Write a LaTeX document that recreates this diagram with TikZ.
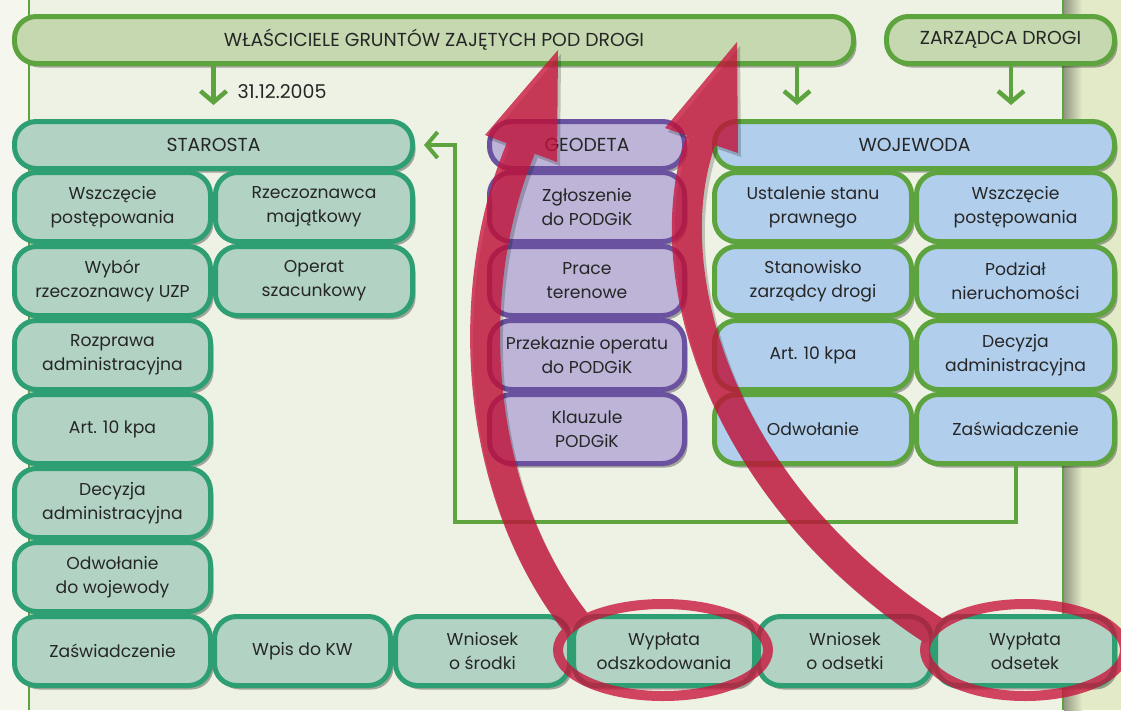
\documentclass[tikz,border=0pt]{standalone}
\usepackage{fontspec}
\setmainfont{Poppins}
\usetikzlibrary{arrows.meta,shadows,calc,shapes.geometric}
\definecolor{bgout}{HTML}{F5F7EF}
\definecolor{bgin}{HTML}{EEF2E4}
\definecolor{bgright}{HTML}{E2EAC8}
\definecolor{gline}{HTML}{5DA33E}
\definecolor{topfill}{HTML}{C5D8B0}
\definecolor{stfill}{HTML}{B2D3C4}
\definecolor{stline}{HTML}{2E9E73}
\definecolor{gefill}{HTML}{BDB4D7}
\definecolor{geline}{HTML}{6A52A0}
\definecolor{wofill}{HTML}{B1CEEC}
\definecolor{txt}{HTML}{262626}
\definecolor{arred}{HTML}{C8143C}
\tikzset{
  bx/.style={draw, line width=5pt, rounded corners=22pt, align=center, text=txt,
    font=\fontsize{17.2}{24}\selectfont, inner sep=0pt,
    drop shadow={shadow xshift=3pt, shadow yshift=-4pt, opacity=0.32, fill=black}},
  hd/.style={font=\fontsize{18.8}{22}\selectfont},
  tb/.style={bx, hd, fill=topfill, draw=gline},
  sb/.style={bx, fill=stfill, draw=stline},
  gb/.style={bx, fill=gefill, draw=geline},
  wb/.style={bx, fill=wofill, draw=gline},
  garr/.style={draw=gline, line width=4.5pt, -{Straight Barb[length=11pt,width=26pt]}},
  ring/.style={draw=arred, line width=10pt, ellipse, inner sep=0pt},
}
\newcommand\Bx[7]{\node[#6, minimum width={#3-#2-5}, minimum height={#5-#4-5}] (#1) at ({(#2+#3)/2},{(#4+#5)/2}) {#7};}
\begin{document}
\begin{tikzpicture}[x=1pt,y=-1pt]
\useasboundingbox (0,0) rectangle (1121,710);
% background
\fill[bgout] (0,0) rectangle (1121,710);
\fill[bgin] (29,0) rectangle (1063,710);
\fill[bgright] (1063,0) rectangle (1121,710);
\shade[left color=black!35!bgright, right color=bgright] (1064,0) rectangle (1082,710);
\draw[gline, line width=2pt] (29,0) -- (29,710);
\draw[gline, line width=2pt] (1063,0) -- (1063,710);
\coordinate (a2) at (797,0);
\coordinate (a3) at (1011,0);
% top boxes
\Bx{W}{12}{856}{14}{66}{tb}{WŁAŚCICIELE GRUNTÓW ZAJĘTYCH POD DROGI}
\Bx{Z}{884}{1117}{14}{66}{tb}{ZARZĄDCA DROGI}
% starosta
\Bx{st}{12}{415}{119}{171}{sb,hd}{STAROSTA}
\Bx{s1}{12}{213}{170}{244}{sb}{Wszczęcie\\postępowania}
\Bx{s2}{213}{415}{170}{244}{sb}{Rzeczoznawca\\majątkowy}
\Bx{s3}{12}{213}{244}{318}{sb}{Wybór\\rzeczoznawcy UZP}
\Bx{s4}{213}{415}{244}{318}{sb}{Operat\\szacunkowy}
\Bx{s5}{12}{213}{318}{392}{sb}{Rozprawa\\administracyjna}
\Bx{s6}{12}{213}{392}{466}{sb}{Art. 10 kpa}
\Bx{s7}{12}{213}{466}{540}{sb}{Decyzja\\administracyjna}
\Bx{s8}{12}{213}{540}{614}{sb}{Odwołanie\\do wojewody}
% geodeta
\Bx{ge}{487}{687}{119}{171}{gb,hd}{GEODETA}
\Bx{g1}{487}{687}{170}{244}{gb}{Zgłoszenie\\do PODGiK}
\Bx{g2}{487}{687}{244}{318}{gb}{Prace\\terenowe}
\Bx{g3}{487}{687}{318}{392}{gb}{Przekaznie operatu\\do PODGiK}
\Bx{g4}{487}{687}{392}{466}{gb}{Klauzule\\PODGiK}
% wojewoda
\Bx{wo}{712}{1117}{119}{171}{wb,hd}{WOJEWODA}
\Bx{w1}{712}{914}{170}{244}{wb}{Ustalenie stanu\\prawnego}
\Bx{w2}{914}{1117}{170}{244}{wb}{Wszczęcie\\postępowania}
\Bx{w3}{712}{914}{244}{318}{wb}{Stanowisko\\zarządcy drogi}
\Bx{w4}{914}{1117}{244}{318}{wb}{Podział\\nieruchomości}
\Bx{w5}{712}{914}{318}{392}{wb}{Art. 10 kpa}
\Bx{w6}{914}{1117}{318}{392}{wb}{Decyzja\\administracyjna}
\Bx{w7}{712}{914}{392}{466}{wb}{Odwołanie}
\Bx{wz}{914}{1117}{392}{466}{wb}{Zaświadczenie}
% connectors
\draw[garr] (st.north |- W.south) -- ([yshift=14pt]st.north);
\node[anchor=west, text=txt, font=\fontsize{19}{22}\selectfont] (date) at (234,92) {31.12.2005};
\draw[garr, shorten >=14pt] (W.south -| a2) -- (a2 |- wo.north);
\draw[garr, shorten >=14pt] (Z.south -| a3) -- (a3 |- wo.north);
\draw[garr, line width=4pt] (wz.south) -- ++(0,56) -| ([xshift=40pt]st.east) -- ([xshift=9pt]st.east);
% bottom row
\Bx{b1}{12}{213}{614}{688}{sb}{Zaświadczenie}
\Bx{b2}{212}{393}{614}{688}{sb}{Wpis do KW}
\Bx{b3}{393}{572}{614}{688}{sb}{Wniosek\\o środki}
\Bx{b4}{571}{757}{614}{688}{sb}{Wypłata\\odszkodowania}
\Bx{b5}{756}{934}{614}{688}{sb}{Wniosek\\o odsetki}
\Bx{b6}{933}{1117}{614}{688}{sb}{Wypłata\\odsetek}
% red arrows
\coordinate (p1) at (577,624);
\coordinate (p2) at (934,631);
\begin{scope}[transparency group, opacity=0.2, shift={(3,4)}]
  \draw[black, line width=30pt] (p1) .. controls (468,485) and (465,280) .. (521,148);
  \fill[black] (485,135) -- (558,50) -- (557,162) -- cycle;
  \draw[black, line width=30pt] (p2) .. controls (718,490) and (655,270) .. (701,140);
  \fill[black] (665,128) -- (737,42) -- (738,153) -- cycle;
\end{scope}
\begin{scope}[transparency group, opacity=0.78]
  \node[ring, minimum width=210, minimum height=92] (e1) at (663,650) {};
  \node[ring, minimum width=200, minimum height=92] (e2) at (1025,650) {};
  \draw[arred, line width=30pt] (p1) .. controls (468,485) and (465,280) .. (521,148);
  \fill[arred] (485,135) -- (558,50) -- (557,162) -- cycle;
  \draw[arred, line width=30pt] (p2) .. controls (718,490) and (655,270) .. (701,140);
  \fill[arred] (665,128) -- (737,42) -- (738,153) -- cycle;
\end{scope}
\end{tikzpicture}
\end{document}
